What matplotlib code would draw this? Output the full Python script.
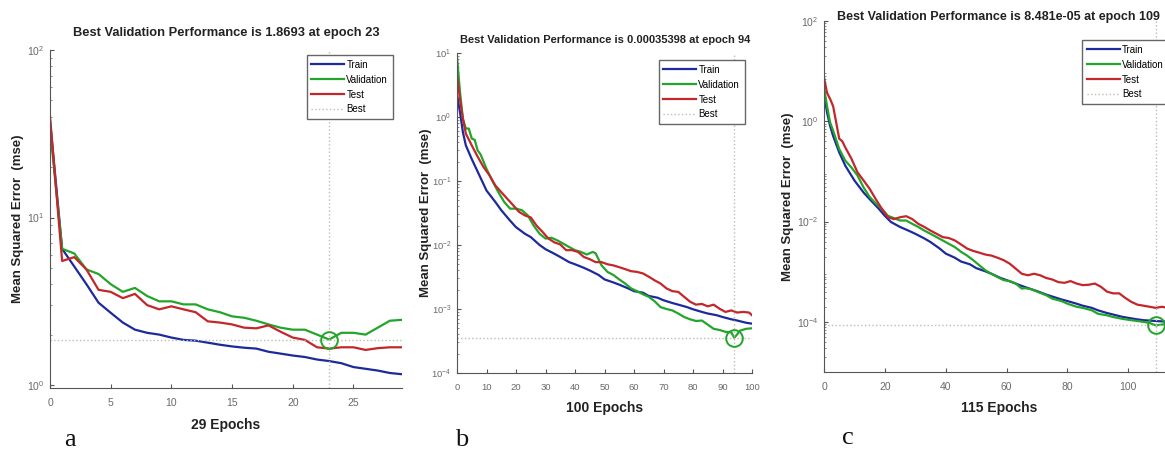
import numpy as np
import matplotlib
matplotlib.use("Agg")
import matplotlib.pyplot as plt

# ---- panel a : 29 epochs ----
a_epochs = list(range(0, 30))
a_train = [38, 6.5, 5.1, 4.0, 3.1, 2.7, 2.36, 2.14, 2.05, 2.0, 1.92, 1.86, 1.84, 1.79, 1.74,
           1.70, 1.67, 1.65, 1.58, 1.54, 1.50, 1.47, 1.42, 1.39, 1.35, 1.28, 1.25, 1.22, 1.18, 1.16]
a_valid = [34, 6.5, 6.1, 4.9, 4.6, 4.0, 3.6, 3.8, 3.4, 3.16, 3.16, 3.03, 3.03, 2.83, 2.72,
           2.57, 2.52, 2.42, 2.30, 2.20, 2.14, 2.14, 2.0, 1.8693, 2.05, 2.05, 2.0, 2.2, 2.42, 2.45]
a_test = [40, 5.5, 5.8, 4.9, 3.7, 3.6, 3.3, 3.5, 3.0, 2.83, 2.95, 2.83, 2.72, 2.4, 2.36,
          2.30, 2.2, 2.18, 2.27, 2.08, 1.92, 1.86, 1.68, 1.65, 1.68, 1.68, 1.62, 1.66, 1.68, 1.68]

# ---- panel b : 100 epochs ----
b_train_x = [0, 1, 2, 3, 5, 7, 10, 13, 15, 18, 20, 23, 25, 28, 30, 33, 35, 38, 40, 43, 45, 48,
             50, 53, 55, 58, 60, 63, 65, 68, 70, 73, 75, 78, 80, 83, 85, 88, 90, 93, 95, 98, 100]
b_train = [2.2, 1.2, 0.58, 0.36, 0.22, 0.14, 0.071, 0.047, 0.035, 0.024, 0.019, 0.015, 0.0133,
           0.010, 0.0086, 0.0073, 0.0065, 0.0054, 0.0050, 0.0044, 0.0040, 0.0034, 0.0029, 0.0026,
           0.0024, 0.0021, 0.0019, 0.0018, 0.0016, 0.0015, 0.00137, 0.00124, 0.00117, 0.00107,
           0.00099, 0.00090, 0.00085, 0.00080, 0.00075, 0.00069, 0.00066, 0.00061, 0.00059]
b_valid_x = [0, 1, 2, 3, 4, 5, 6, 7, 8, 10, 12, 14, 16, 18, 20, 22, 24, 26, 28, 30, 32, 34, 36,
             38, 40, 42, 44, 46, 47, 49, 51, 53, 55, 57, 59, 61, 63, 65, 67, 69, 71, 73, 75, 77,
             79, 81, 83, 85, 87, 89, 91, 93, 94, 96, 98, 100]
b_valid = [8.7, 2.5, 0.94, 0.66, 0.66, 0.46, 0.44, 0.30, 0.26, 0.155, 0.10, 0.067, 0.047, 0.037,
           0.037, 0.035, 0.029, 0.020, 0.015, 0.0126, 0.013, 0.0118, 0.0105, 0.0093, 0.0083,
           0.0078, 0.0071, 0.0078, 0.0074, 0.0048, 0.0038, 0.0034, 0.0029, 0.0025, 0.0021,
           0.0019, 0.0017, 0.00155, 0.00132, 0.00107, 0.00100, 0.00095, 0.00085, 0.00075,
           0.00069, 0.00065, 0.00066, 0.00057, 0.00049, 0.00047, 0.00044, 0.00043, 0.00035398,
           0.00046, 0.00049, 0.00050]
b_test_x = [0, 1, 2, 3, 5, 7, 9, 11, 13, 15, 17, 19, 21, 23, 25, 27, 29, 31, 33, 35, 37, 39, 41,
            43, 45, 47, 49, 51, 53, 55, 57, 59, 61, 63, 65, 67, 69, 71, 73, 75, 77, 79, 81, 83,
            85, 87, 89, 91, 93, 95, 97, 99, 100]
b_test = [4.5, 1.9, 0.94, 0.55, 0.36, 0.24, 0.165, 0.123, 0.085, 0.067, 0.053, 0.042, 0.033,
          0.029, 0.027, 0.020, 0.016, 0.0126, 0.011, 0.0102, 0.0083, 0.0083, 0.0078, 0.0065,
          0.0060, 0.0054, 0.0054, 0.0050, 0.0048, 0.0045, 0.0042, 0.0039, 0.0038, 0.0036,
          0.0032, 0.0028, 0.0025, 0.0021, 0.0019, 0.00185, 0.00155, 0.0013, 0.00117, 0.0012,
          0.0011, 0.00117, 0.00101, 0.0009, 0.00095, 0.00088, 0.0009, 0.00088, 0.0008]

# ---- panel c : 115 epochs ----
c_train_x = [0, 1, 2, 3, 5, 7, 10, 13, 15, 18, 20, 22, 25, 28, 30, 33, 35, 38, 40, 43, 45, 48,
             50, 53, 55, 58, 60, 63, 65, 68, 70, 73, 75, 78, 80, 83, 85, 88, 90, 93, 95, 98,
             100, 103, 105, 108, 110, 113, 115]
c_train = [3.5, 1.5, 0.81, 0.51, 0.24, 0.13, 0.066, 0.038, 0.028, 0.018, 0.013, 0.0098, 0.0078,
           0.0065, 0.0057, 0.0046, 0.0039, 0.0029, 0.0023, 0.0019, 0.0016, 0.0014, 0.00118,
           0.00102, 0.00091, 0.00075, 0.00068, 0.00058, 0.00052, 0.00045, 0.00041, 0.00035,
           0.00032, 0.00028, 0.00026, 0.00023, 0.00021, 0.00019, 0.00017, 0.00015, 0.00014,
           0.000126, 0.00012, 0.000112, 0.000108, 0.000105, 0.000103, 0.000101, 0.0001]
c_valid_x = [0, 1, 2, 3, 5, 7, 9, 11, 13, 15, 17, 19, 21, 23, 25, 27, 29, 31, 33, 35, 37, 39,
             41, 43, 45, 47, 49, 51, 53, 55, 57, 59, 61, 63, 65, 66, 68, 70, 73, 75, 78, 80,
             83, 85, 88, 90, 93, 95, 98, 100, 103, 105, 107, 109, 112, 115]
c_valid = [4.7, 2.0, 0.95, 0.65, 0.28, 0.164, 0.12, 0.083, 0.048, 0.031, 0.023, 0.018, 0.013,
           0.0117, 0.0105, 0.0105, 0.009, 0.0078, 0.0066, 0.0057, 0.0049, 0.0042, 0.0036,
           0.0031, 0.0025, 0.0021, 0.0017, 0.00135, 0.00107, 0.00091, 0.00078, 0.00068,
           0.00065, 0.00058, 0.00046, 0.00047, 0.00045, 0.0004, 0.00034, 0.00029, 0.00026,
           0.00023, 0.0002, 0.00019, 0.00017, 0.000145, 0.000135, 0.000125, 0.000115, 0.00011,
           0.000104, 0.0001, 0.000095, 8.481e-05, 0.00009, 0.0001]
c_test_x = [0, 1, 2, 3, 4, 5, 6, 7, 9, 11, 13, 15, 17, 19, 21, 23, 25, 27, 29, 31, 33, 35, 37,
            39, 41, 43, 45, 47, 49, 51, 53, 55, 57, 59, 61, 63, 65, 67, 69, 71, 73, 75, 77, 79,
            81, 83, 85, 87, 89, 91, 93, 95, 97, 99, 101, 103, 105, 107, 109, 111, 113, 115]
c_test = [7.4, 3.7, 2.8, 2.0, 0.95, 0.45, 0.40, 0.30, 0.18, 0.096, 0.066, 0.045, 0.028, 0.018,
          0.0122, 0.0112, 0.0122, 0.0128, 0.0112, 0.009, 0.0078, 0.0066, 0.0057, 0.0049,
          0.0047, 0.0042, 0.0035, 0.0029, 0.0026, 0.0024, 0.0022, 0.0021, 0.0019, 0.0017,
          0.00145, 0.00115, 0.00091, 0.00085, 0.00091, 0.00085, 0.00075, 0.0007, 0.00062,
          0.0006, 0.00065, 0.00058, 0.00054, 0.00055, 0.00058, 0.0005, 0.0004, 0.00037,
          0.00037, 0.0003, 0.00025, 0.00022, 0.00021, 0.0002, 0.00019, 0.0002, 0.00019, 0.00019]

titles = ["Best Validation Performance is 1.8693 at epoch 23",
          "Best Validation Performance is 0.00035398 at epoch 94",
          "Best Validation Performance is 8.481e-05 at epoch 109"]
xlabels = ["29 Epochs", "100 Epochs", "115 Epochs"]
letters = ["a", "b", "c"]
best_epoch = [23, 94, 109]
best_value = [1.8693, 0.00035398, 8.481e-05]

BLUE = "#1c2a9c"
GREEN = "#22a52a"
RED = "#c3262b"
BEST = "#b8c0b0"
TICK = "#6a6a6a"
DARK = "#222222"

plt.rcParams["font.family"] = ["Liberation Sans", "DejaVu Sans"]

W, H = 1165, 450
fig = plt.figure(figsize=(W / 100, H / 100), dpi=100)


def px_axes(left, top, right, bottom):
    return fig.add_axes([left / W, 1 - bottom / H, (right - left) / W, (bottom - top) / H])


def panel(ax, train, valid, test, xlim, ylim, xticks, yticks, k, tick_fs):
    ax.semilogy(train[0], train[1], color=BLUE, lw=1.6, label="Train")
    ax.semilogy(valid[0], valid[1], color=GREEN, lw=1.6, label="Validation")
    ax.semilogy(test[0], test[1], color=RED, lw=1.6, label="Test")
    ax.axhline(best_value[k], color=BEST, lw=1.0, ls=":", label="Best")
    ax.axvline(best_epoch[k], color=BEST, lw=1.0, ls=":")
    ax.plot([best_epoch[k]], [best_value[k]], "o", ms=12, mfc="none", mec=GREEN, mew=1.4,
            clip_on=False)
    ax.set_xlim(*xlim)
    ax.set_ylim(*ylim)
    ax.set_xticks(xticks)
    ax.set_yticks(yticks)
    for s in ["top", "right"]:
        ax.spines[s].set_visible(False)
    for s in ["left", "bottom"]:
        ax.spines[s].set_color("#555555")
        ax.spines[s].set_linewidth(0.8)
    ax.tick_params(direction="in", labelsize=tick_fs, labelcolor=TICK, color="#555555",
                   length=3, which="major")
    ax.tick_params(axis="x", pad=7)
    ax.tick_params(axis="y", pad=4)
    ax.tick_params(direction="in", which="minor", length=1.5, color="#777777")
    ax.set_xlabel(xlabels[k], fontsize=10, fontweight="bold", color=DARK)
    ax.set_ylabel("Mean Squared Error  (mse)", fontsize=9.5, fontweight="bold", color=DARK)


def place_labels(ax, left, top, right, bottom, ylab_x, xlab_y):
    # label centres given in figure pixels
    ax.yaxis.set_label_coords((ylab_x - left) / (right - left), 0.5)
    ax.xaxis.set_label_coords(0.5, (bottom - xlab_y) / (bottom - top))
    ax.xaxis.label.set_va("center")
    ax.yaxis.label.set_va("center")


box_a = (50, 50, 402, 388)
box_b = (457, 53, 752, 373)
box_c = (824, 21, 1174, 372)

ax_a = px_axes(*box_a)
panel(ax_a, (a_epochs, a_train), (a_epochs, a_valid), (a_epochs, a_test),
      (0, 29), (0.96, 100), [0, 5, 10, 15, 20, 25], [1, 10, 100], 0, 7.5)
place_labels(ax_a, *box_a, 18, 425)

ax_b = px_axes(*box_b)
panel(ax_b, (b_train_x, b_train), (b_valid_x, b_valid), (b_test_x, b_test),
      (0, 100), (1e-4, 10), list(range(0, 101, 10)), [1e-4, 1e-3, 1e-2, 1e-1, 1, 10], 1, 6.8)
place_labels(ax_b, *box_b, 426, 408)

ax_c = px_axes(*box_c)
panel(ax_c, (c_train_x, c_train), (c_valid_x, c_valid), (c_test_x, c_test),
      (0, 115), (1e-5, 100), [0, 20, 40, 60, 80, 100], [1e-4, 1e-2, 1, 100], 2, 7.5)
place_labels(ax_c, *box_c, 788, 408)

# titles placed by pixel centre, sized to the reference widths
for (x, y, fs), t in zip([(226, 33, 9.3), (605, 40, 8.0), (998, 17, 9.0)], titles):
    fig.text(x / W, 1 - y / H, t, fontsize=fs, fontweight="bold", color=DARK,
             ha="center", va="center")

leg_kw = dict(fontsize=7, handlelength=3.4, handletextpad=0.2, borderpad=0.5,
              labelspacing=0.5, fancybox=False, edgecolor="#666666", framealpha=1,
              bbox_transform=fig.transFigure, borderaxespad=0)
ax_a.legend(loc="upper right", bbox_to_anchor=(393 / W, 1 - 55 / H), **leg_kw)
ax_b.legend(loc="upper right", bbox_to_anchor=(745 / W, 1 - 60 / H), **leg_kw)
ax_c.legend(loc="upper left", bbox_to_anchor=(1082 / W, 1 - 40 / H), **leg_kw)

for x, y, t in [(70, 440, "a"), (462, 440, "b"), (848, 438, "c")]:
    fig.text(x / W, 1 - y / H, t, fontsize=19, family=["Liberation Serif", "DejaVu Serif"],
             ha="center", va="center", color="#111111")

fig.savefig("out.png", dpi=100)
